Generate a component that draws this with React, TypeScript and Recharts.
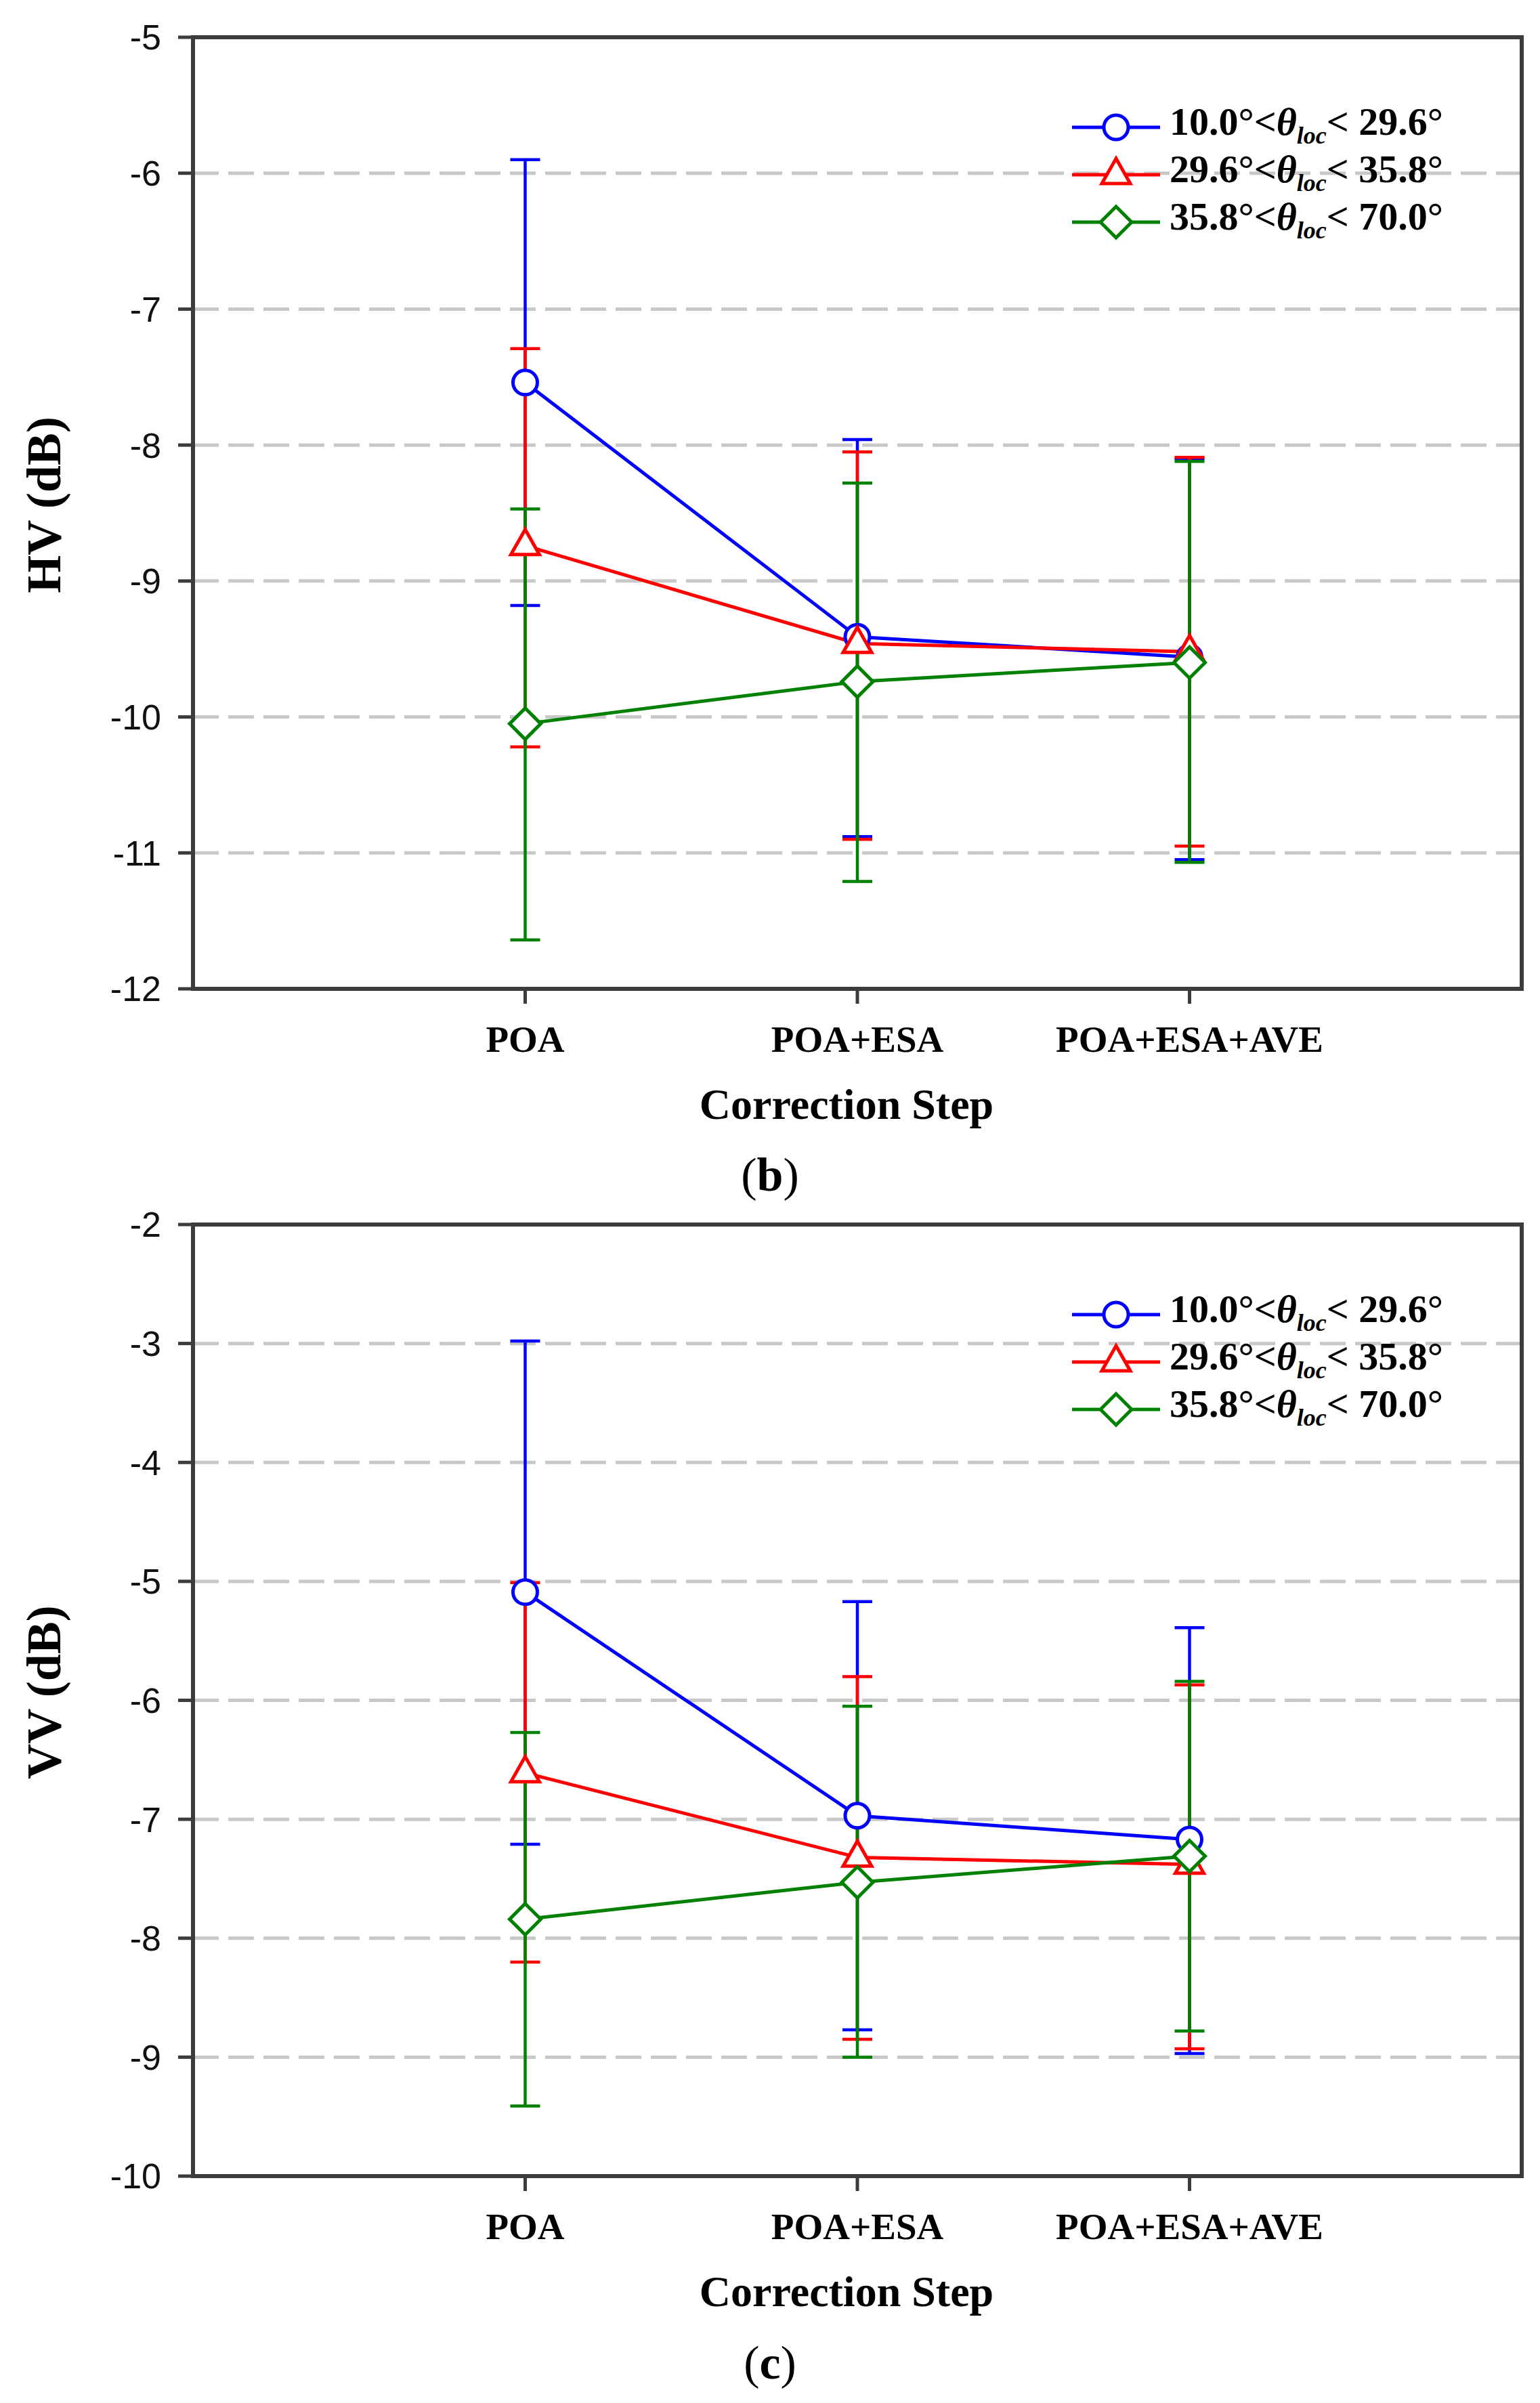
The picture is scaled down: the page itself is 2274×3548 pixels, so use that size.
import {
  CartesianGrid,
  ErrorBar,
  Label,
  Legend,
  Line,
  LineChart,
  ReferenceArea,
  XAxis,
  YAxis,
} from 'recharts'

const SERIF = '"Liberation Serif", "Times New Roman", serif'
const SANS = '"Liberation Sans", Arial, sans-serif'
const FRAME = '#3c3c3c'
const GRID = '#c8c8c8'

const PAGE_W = 2274
const PAGE_H = 3548
const CHART_H = 1700

// correction steps on a 0..4 numeric axis
const STEPS = [1, 2, 3]
const STEP_DOMAIN = [0, 4]
const STEP_LABELS = ['POA', 'POA+ESA', 'POA+ESA+AVE']

// incidence-angle bands (legend)
const BAND_LIMITS = [
  ['10.0', '29.6'],
  ['29.6', '35.8'],
  ['35.8', '70.0'],
]

const SERIES = [
  { key: 'band1', color: '#0000ff', shape: 'circle' },
  { key: 'band2', color: '#ff0000', shape: 'triangle' },
  { key: 'band3', color: '#008000', shape: 'diamond' },
]

// HV panel (b)
const HV_TICKS = [-12, -11, -10, -9, -8, -7, -6, -5]
const HV_MEAN = [
  [-7.54, -9.41, -9.56],
  [-8.74, -9.46, -9.52],
  [-10.05, -9.74, -9.6],
]
const HV_HIGH = [
  [-5.9, -7.96, -8.1],
  [-7.29, -8.05, -8.09],
  [-8.47, -8.28, -8.12],
]
const HV_LOW = [
  [-9.18, -10.88, -11.05],
  [-10.22, -10.9, -10.95],
  [-11.64, -11.21, -11.07],
]

// VV panel (c)
const VV_TICKS = [-10, -9, -8, -7, -6, -5, -4, -3, -2]
const VV_MEAN = [
  [-5.09, -6.97, -7.17],
  [-6.61, -7.32, -7.38],
  [-7.84, -7.53, -7.31],
]
const VV_HIGH = [
  [-2.98, -5.17, -5.39],
  [-5.01, -5.8, -5.87],
  [-6.27, -6.05, -5.84],
]
const VV_LOW = [
  [-7.21, -8.77, -8.97],
  [-8.2, -8.85, -8.93],
  [-9.41, -9.0, -8.78],
]

function buildRows(means: number[][], highs: number[][], lows: number[][]) {
  return STEPS.map((step, i) => {
    const row: any = { step }
    SERIES.forEach((s, k) => {
      row[s.key] = means[k][i]
      row[s.key + 'Err'] = [means[k][i] - lows[k][i], highs[k][i] - means[k][i]]
    })
    return row
  })
}

const HV_ROWS = buildRows(HV_MEAN, HV_HIGH, HV_LOW)
const VV_ROWS = buildRows(VV_MEAN, VV_HIGH, VV_LOW)

function Marker({ shape, cx, cy, color }: any) {
  if (shape === 'circle') {
    return <circle cx={cx} cy={cy} r={18} fill="#fff" stroke={color} strokeWidth={5} />
  }
  if (shape === 'triangle') {
    return (
      <polygon
        points={`${cx},${cy - 24} ${cx + 21},${cy + 13} ${cx - 21},${cy + 13}`}
        fill="#fff"
        stroke={color}
        strokeWidth={5}
      />
    )
  }
  return (
    <polygon
      points={`${cx},${cy - 23} ${cx + 23},${cy} ${cx},${cy + 23} ${cx - 23},${cy}`}
      fill="#fff"
      stroke={color}
      strokeWidth={5}
    />
  )
}

function LegendBox() {
  return (
    <div style={{ fontFamily: SERIF, fontWeight: 'bold', fontSize: 58, color: '#000' }}>
      {SERIES.map((s, i) => (
        <div key={s.key} style={{ display: 'flex', alignItems: 'center', height: 70 }}>
          <svg width={130} height={70} style={{ display: 'block' }}>
            <line x1={0} y1={35} x2={130} y2={35} stroke={s.color} strokeWidth={5} />
            <Marker shape={s.shape} cx={65} cy={35} color={s.color} />
          </svg>
          <span style={{ marginLeft: 14, position: 'relative', top: -8, whiteSpace: 'nowrap', lineHeight: '70px' }}>
            {BAND_LIMITS[i][0]}°&lt;<i>θ</i>
            <sub style={{ fontSize: '0.62em', lineHeight: 0, fontStyle: 'italic' }}>loc</sub>
            &lt; {BAND_LIMITS[i][1]}°
          </span>
        </div>
      ))}
    </div>
  )
}

function StepTick({ x, y, payload }: any) {
  return (
    <text x={x} y={y} dy={71} textAnchor="middle" fontFamily={SERIF} fontWeight="bold" fontSize={55} fill="#000">
      {STEP_LABELS[payload.value - 1]}
    </text>
  )
}

const yTitle = (text: string) => (props: any) => {
  const vb = props.viewBox || { x: 0, y: 55, width: 285, height: 1405 }
  const x = vb.x + 89
  const y = vb.y + vb.height / 2 - 12
  return (
    <text
      x={x}
      y={y}
      transform={`rotate(-90, ${x}, ${y})`}
      textAnchor="middle"
      fontFamily={SERIF}
      fontWeight="bold"
      fontSize={72}
      fill="#000"
    >
      {text}
    </text>
  )
}

const xTitle = (props: any) => {
  const vb = props.viewBox || { x: 285, y: 1460, width: 1962, height: 240 }
  return (
    <text
      x={vb.x + vb.width / 2 - 16}
      y={vb.y + 192}
      textAnchor="middle"
      fontFamily={SERIF}
      fontWeight="bold"
      fontSize={64}
      fill="#000"
    >
      Correction Step
    </text>
  )
}

const frameLine = { stroke: FRAME, strokeWidth: 6, strokeLinecap: 'square' }
const tickLine = { stroke: FRAME, strokeWidth: 5 }

type PanelProps = {
  rows: any[]
  yTicks: number[]
  title: string
}

function Panel({ rows, yTicks, title }: PanelProps) {
  const domain = [yTicks[0], yTicks[yTicks.length - 1]]
  return (
    <LineChart width={PAGE_W} height={CHART_H} data={rows} margin={{ top: 55, right: 27, bottom: 0, left: 0 }}>
      <CartesianGrid vertical={false} stroke={GRID} strokeWidth={5} strokeDasharray="38 14" />
      <XAxis
        dataKey="step"
        type="number"
        domain={STEP_DOMAIN}
        ticks={STEPS}
        interval={0}
        height={240}
        tickSize={22}
        tickMargin={0}
        tickLine={tickLine}
        axisLine={frameLine}
        tick={<StepTick />}
        label={<Label content={xTitle} />}
      />
      <YAxis
        type="number"
        domain={domain}
        ticks={yTicks}
        interval={0}
        width={285}
        tickSize={22}
        tickMargin={25}
        tickLine={tickLine}
        axisLine={frameLine}
        tick={{ fontFamily: SANS, fontSize: 52, fill: '#111' }}
        label={<Label content={yTitle(title)} />}
      />
      {/* plot frame (top and right edges) */}
      <ReferenceArea
        x1={STEP_DOMAIN[0]}
        x2={STEP_DOMAIN[1]}
        y1={domain[0]}
        y2={domain[1]}
        fill="none"
        fillOpacity={0}
        stroke={FRAME}
        strokeWidth={6}
        strokeOpacity={1}
        ifOverflow="visible"
      />
      {SERIES.map((s) => (
        <Line
          key={s.key}
          type="linear"
          dataKey={s.key}
          stroke={s.color}
          strokeWidth={5}
          isAnimationActive={false}
          activeDot={false}
          dot={(p: any) => <Marker key={`${s.key}-${p.index}`} shape={s.shape} cx={p.cx} cy={p.cy} color={s.color} />}
        >
          <ErrorBar
            dataKey={s.key + 'Err'}
            direction="y"
            width={22}
            stroke={s.color}
            strokeWidth={4.5}
            isAnimationActive={false}
          />
        </Line>
      ))}
      <Legend
        layout="vertical"
        align="center"
        verticalAlign="middle"
        content={() => <LegendBox />}
        wrapperStyle={{ left: 1583, top: 153, width: 'auto', height: 'auto' }}
      />
    </LineChart>
  )
}

function Caption({ top, letter }: { top: number; letter: string }) {
  return (
    <div
      style={{
        position: 'absolute',
        left: 0,
        top,
        width: PAGE_W,
        textAlign: 'center',
        fontFamily: SERIF,
        fontSize: 70,
        lineHeight: '70px',
        color: '#000',
      }}
    >
      (<b>{letter}</b>)
    </div>
  )
}

export default function App() {
  return (
    <div style={{ position: 'absolute', left: 0, top: 0, width: PAGE_W, height: PAGE_H, background: '#fff' }}>
      <div style={{ position: 'absolute', left: 0, top: 0 }}>
        <Panel rows={HV_ROWS} yTicks={HV_TICKS} title="HV (dB)" />
      </div>
      <div style={{ position: 'absolute', left: 0, top: 1753 }}>
        <Panel rows={VV_ROWS} yTicks={VV_TICKS} title="VV (dB)" />
      </div>
      <Caption top={1700} letter="b" />
      <Caption top={3454} letter="c" />
    </div>
  )
}
